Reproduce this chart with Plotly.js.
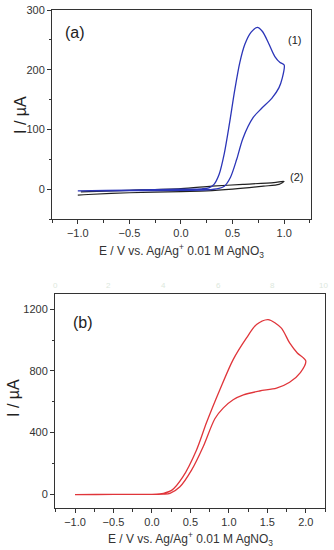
<!DOCTYPE html>
<html>
<head>
<meta charset="utf-8">
<script src="https://cdn.plot.ly/plotly-3.0.1.min.js"></script>
<style>html,body{margin:0;padding:0;background:#fff;}#chart{width:334px;height:550px;}</style>
</head>
<body>
<div id="chart"></div>
<script>
// Panel (a), curve (1): blue CV loop
const a1E = [-1.0, -0.5, 0.0, 0.2, 0.27, 0.32, 0.37, 0.42, 0.47, 0.52, 0.57, 0.62, 0.68, 0.74, 0.79, 0.85, 0.91, 0.96, 1.0,
             0.98, 0.95, 0.88, 0.78, 0.70, 0.60, 0.54, 0.48, 0.42, 0.36, 0.25, 0.0, -0.5, -1.0];
const a1I = [-3, -1.5, 0, 0.5, 2, 8, 25, 60, 110, 165, 212, 243, 263, 271, 264, 244, 222, 212, 208,
             185, 170, 152, 135, 120, 85, 50, 20, 5, 1, -1, -2, -2.5, -3];
// Panel (a), curve (2): black CV loop
const a2E = [-0.97, -0.5, 0.0, 0.3, 0.6, 0.9, 1.0, 0.95, 0.8, 0.5, 0.25, 0.0, -0.5, -0.9, -1.0];
const a2I = [-4.5, -2, 1, 5, 8, 11, 13, 8, 5, 0, -3, -4, -6, -9, -10];
// Panel (b): red CV loop
const bE = [-1.0, -0.5, 0.0, 0.1, 0.15, 0.26, 0.40, 0.58, 0.71, 0.883, 1.056, 1.23, 1.36, 1.51, 1.68, 1.79, 1.89, 2.0,
            1.93, 1.79, 1.62, 1.40, 1.19, 1.056, 0.926, 0.818, 0.666, 0.515, 0.364, 0.234, 0.15, 0.0, -0.5, -1.0];
const bI = [-3, -2, -1, 1, 5, 26, 110, 287, 465, 678, 874, 1015, 1102, 1134, 1080, 982, 917, 865,
            790, 727, 689, 670, 645, 613, 559, 490, 308, 156, 48, 5, 0, -1, -2, -3];
// Tick values
const aYTicks = [0, 100, 200, 300];
const bYTicks = [0, 400, 800, 1200];
const aXTicks = [-1.0, -0.5, 0.0, 0.5, 1.0];
const bXTicks = [-1.0, -0.5, 0.0, 0.5, 1.0, 1.5, 2.0];
const faintTop = ['0', '2', '4', '6', '8', '10'];

const FONT = 'Liberation Sans, Arial, sans-serif';
const axisBase = {
  showgrid: false, zeroline: false, showline: true, mirror: true,
  linecolor: '#333', linewidth: 1, ticks: 'outside', ticklen: 4, tickwidth: 1, tickcolor: '#333',
  tickfont: {family: FONT, size: 11, color: '#333'}
};

const traces = [
  {x: a2E, y: a2I, xaxis: 'x', yaxis: 'y', mode: 'lines', line: {color: '#222222', width: 1.2, shape: 'spline', smoothing: 0.8}, hoverinfo: 'skip'},
  {x: a1E, y: a1I, xaxis: 'x', yaxis: 'y', mode: 'lines', line: {color: '#2b35b8', width: 1.3, shape: 'spline', smoothing: 0.8}, hoverinfo: 'skip'},
  {x: bE, y: bI, xaxis: 'x2', yaxis: 'y2', mode: 'lines', line: {color: '#e0353a', width: 1.3, shape: 'spline', smoothing: 0.8}, hoverinfo: 'skip'}
];

const xTitle = 'E / V vs. Ag/Ag<sup>+</sup> 0.01 M AgNO<sub>3</sub>';
const annotations = [
  {text: '(a)', xref: 'paper', yref: 'paper', x: 63/334, y: 1 - 32/550, xanchor: 'left', yanchor: 'middle', showarrow: false, font: {family: FONT, size: 16, color: '#222'}},
  {text: '(1)', xref: 'paper', yref: 'paper', x: 294/334, y: 1 - 40/550, xanchor: 'center', yanchor: 'middle', showarrow: false, font: {family: FONT, size: 11, color: '#222'}},
  {text: '(2)', xref: 'paper', yref: 'paper', x: 296/334, y: 1 - 177/550, xanchor: 'center', yanchor: 'middle', showarrow: false, font: {family: FONT, size: 11, color: '#222'}},
  {text: 'I / µA', xref: 'paper', yref: 'paper', x: 20/334, y: 1 - 115/550, xanchor: 'center', yanchor: 'middle', textangle: -90, showarrow: false, font: {family: FONT, size: 16, color: '#222'}},
  {text: xTitle, xref: 'paper', yref: 'paper', x: 181/334, y: 1 - 251/550, xanchor: 'center', yanchor: 'middle', showarrow: false, font: {family: FONT, size: 12, color: '#333'}},
  {text: '(b)', xref: 'paper', yref: 'paper', x: 71/334, y: 1 - 322/550, xanchor: 'left', yanchor: 'middle', showarrow: false, font: {family: FONT, size: 16, color: '#222'}},
  {text: 'I / µA', xref: 'paper', yref: 'paper', x: 13/334, y: 1 - 398/550, xanchor: 'center', yanchor: 'middle', textangle: -90, showarrow: false, font: {family: FONT, size: 16, color: '#222'}},
  {text: xTitle, xref: 'paper', yref: 'paper', x: 190/334, y: 1 - 539/550, xanchor: 'center', yanchor: 'middle', showarrow: false, font: {family: FONT, size: 12, color: '#333'}}
];
const faintX = [55, 108, 163, 218, 272, 323];
faintTop.forEach((t, i) => annotations.push({text: t, xref: 'paper', yref: 'paper', x: faintX[i]/334, y: 1 - 285/550, xanchor: 'center', yanchor: 'middle', showarrow: false, font: {family: FONT, size: 8, color: '#dde8dd'}}));

const layout = {
  width: 334, height: 550,
  margin: {l: 0, r: 0, t: 0, b: 0},
  paper_bgcolor: '#fff', plot_bgcolor: '#fff',
  showlegend: false,
  xaxis: Object.assign({}, axisBase, {domain: [52/334, 311/334], range: [-1.25, 1.26], tickvals: aXTicks, tickformat: '.1f',
    minor: {dtick: 0.25, tick0: 0, ticks: 'outside', ticklen: 2.5, tickcolor: '#333', showgrid: false}, anchor: 'y'}),
  yaxis: Object.assign({}, axisBase, {domain: [1 - 219/550, 1 - 10/550], range: [-50, 300], tickvals: aYTicks,
    minor: {dtick: 50, tick0: 0, ticks: 'outside', ticklen: 2.5, tickcolor: '#333', showgrid: false}, anchor: 'x'}),
  xaxis2: Object.assign({}, axisBase, {domain: [55/334, 325/334], range: [-1.26, 2.25], tickvals: bXTicks, tickformat: '.1f',
    minor: {dtick: 0.25, tick0: 0, ticks: 'outside', ticklen: 2.5, tickcolor: '#333', showgrid: false}, anchor: 'y2'}),
  yaxis2: Object.assign({}, axisBase, {domain: [1 - 508/550, 1 - 294/550], range: [-90, 1300], tickvals: bYTicks,
    minor: {dtick: 200, tick0: 0, ticks: 'outside', ticklen: 2.5, tickcolor: '#333', showgrid: false}, anchor: 'x2'}),
  annotations: annotations
};

Plotly.newPlot('chart', traces, layout, {staticPlot: true, displayModeBar: false});
</script>
</body>
</html>
